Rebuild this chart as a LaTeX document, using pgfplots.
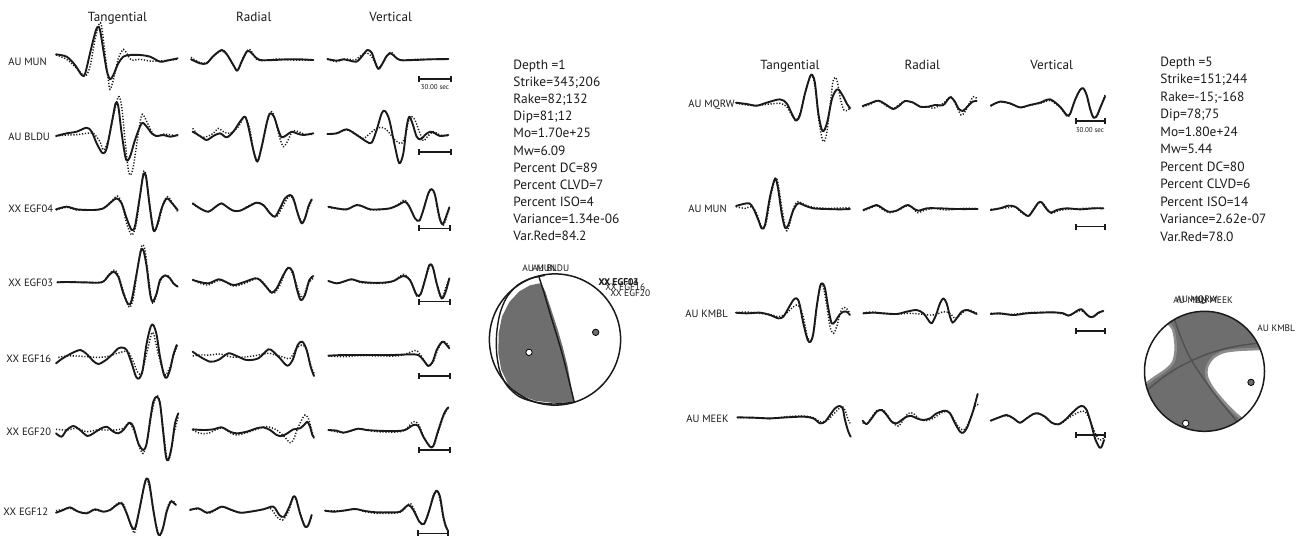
\documentclass[border=0pt]{standalone}
\usepackage{fontspec}
\setmainfont{PT Sans}
\usepackage{pgfplots}
\pgfplotsset{compat=1.18}

\definecolor{ink}{HTML}{1A1A1A}
\definecolor{ballgray}{HTML}{6E6E6E}
\definecolor{bandgray}{HTML}{8C8C8C}
\definecolor{planegray}{HTML}{505050}

% Traces are digitised on a 3x grid; each block style moves its grid onto the page.
\pgfplotsset{
  obsline/.style={ink, line width=0.95pt, smooth, tension=0.5, line cap=round, line join=round, mark=none},
  synline/.style={ink, line width=0.72pt, dash pattern=on 0.6pt off 0.85pt, smooth, tension=0.5, mark=none},
  pA/.style={x filter/.expression={x/3},      y filter/.expression={y/3}},
  pB/.style={x filter/.expression={x/3},      y filter/.expression={y/3+170}},
  pC/.style={x filter/.expression={x/3},      y filter/.expression={y/3+350}},
  pE/.style={x filter/.expression={x/3+680},  y filter/.expression={y/3+40}},
  pF/.style={x filter/.expression={x/3+680},  y filter/.expression={y/3+250}},
  pH/.style={x filter/.expression={x/3+480},  y filter/.expression={y/3+250}},
  pI/.style={x filter/.expression={x/3+1120}, y filter/.expression={y/3+270}},
}
\newcommand{\obs}[2]{\addplot[obsline,#1] coordinates {#2};}
\newcommand{\syn}[2]{\addplot[synline,#1] coordinates {#2};}
\newcommand{\sbar}[3]{\draw[ink, line width=0.75pt] (axis cs:#1,#3) -- (axis cs:#2,#3);
  \draw[ink, line width=0.75pt] (axis cs:#1,#3-3) -- (axis cs:#1,#3+3);
  \draw[ink, line width=0.75pt] (axis cs:#2,#3-3) -- (axis cs:#2,#3+3);}

\begin{document}
\begin{tikzpicture}
\begin{axis}[
  scale only axis, width=650.5pt, height=269pt,
  xmin=0, xmax=1301, ymin=0, ymax=538, y dir=reverse,
  axis lines=none, clip=false,
]
\path (axis cs:0,0) rectangle (axis cs:1301,538);

% ---------------- component titles and station names ----------------
\begin{scope}[every node/.style={ink, font=\fontsize{6.6}{8}\selectfont, anchor=base, inner sep=0}]
\node at (axis cs:117.5,21.7) {Tangential};
\node at (axis cs:253.7,21.7) {Radial};
\node at (axis cs:390.7,21.7) {Vertical};
\node at (axis cs:790,69.3) {Tangential};
\node at (axis cs:922.3,69.3) {Radial};
\node at (axis cs:1051.7,69.3) {Vertical};
\end{scope}
\begin{scope}[every node/.style={ink, font=\fontsize{5.3}{6}\selectfont, anchor=west, inner sep=0}]
\node at (axis cs:8,62) {AU MUN};
\node at (axis cs:8,137) {AU BLDU};
\node at (axis cs:8,208.3) {XX EGF04};
\node at (axis cs:8,282.3) {XX EGF03};
\node at (axis cs:6,358.3) {XX EGF16};
\node at (axis cs:6,431.7) {XX EGF20};
\node at (axis cs:3,511.7) {XX EGF12};
\node at (axis cs:688,105) {AU MQRW};
\node at (axis cs:688,209) {AU MUN};
\node at (axis cs:685,314) {AU KMBL};
\node at (axis cs:686,419) {AU MEEK};
\end{scope}

% scale bars (30 s)
\sbar{419}{451}{79}
\sbar{419}{451}{152}
\sbar{419}{450}{228.3}
\sbar{419}{450}{301.7}
\sbar{419}{450}{376}
\sbar{419}{450}{450}
\sbar{418}{448}{533.3}
\sbar{1076}{1105}{121}
\sbar{1076}{1105}{226.7}
\sbar{1076}{1105}{331}
\sbar{1076}{1105}{435}
\node[ink, font=\fontsize{3.5}{4}\selectfont, inner sep=0] at (axis cs:435,87.5) {30.00 sec};
\node[ink, font=\fontsize{3.5}{4}\selectfont, inner sep=0] at (axis cs:1090,130) {30.00 sec};

% ---------------- event 1 : waveforms ----------------
% AU MUN
\obs{pA}{(168,163) (200,170) (225,195) (245,225) (255,222) (270,160) (285,100) (293,80) (300,90) (310,150) (320,210) (330,238) (340,225) (355,190) (370,170) (390,165) (420,165) (450,170) (480,185) (500,182) (533,175)}
\syn{pA}{(168,165) (200,178) (230,205) (255,228) (270,200) (285,120) (298,70) (305,80) (315,160) (325,240) (330,268) (340,240) (355,175) (370,148) (380,160) (395,180) (420,178) (450,183) (480,183) (533,178)}
\obs{pA}{(573,178) (600,190) (620,190) (640,168) (665,150) (680,162) (700,195) (712,212) (725,185) (740,155) (750,155) (765,170) (780,180) (820,180) (860,178) (900,178) (940,180)}
\syn{pA}{(573,172) (600,188) (620,188) (645,165) (665,153) (685,170) (705,205) (713,210) (728,175) (745,148) (755,155) (770,178) (790,182) (830,177) (870,180) (940,180)}
\obs{pA}{(982,177) (1010,182) (1030,178) (1050,182) (1070,185) (1085,170) (1102,150) (1115,158) (1125,185) (1135,207) (1145,195) (1160,168) (1172,160) (1185,170) (1200,180) (1240,180) (1290,178) (1345,177)}
\syn{pA}{(982,178) (1010,185) (1030,177) (1050,178) (1065,180) (1085,165) (1100,158) (1115,170) (1128,195) (1135,205) (1148,190) (1165,162) (1175,157) (1190,175) (1210,182) (1250,178) (1345,178)}
% AU BLDU
\obs{pA}{(168,408) (200,400) (230,395) (260,383) (275,395) (290,430) (308,460) (320,445) (335,370) (347,310) (355,320) (365,400) (378,478) (390,470) (405,420) (425,370) (440,380) (455,400) (470,408) (490,405) (510,410) (533,405)}
\syn{pA}{(168,408) (200,405) (230,404) (260,400) (280,400) (300,425) (310,450) (325,420) (340,350) (355,290) (365,320) (375,420) (385,510) (392,525) (400,500) (412,420) (425,345) (438,360) (455,395) (470,410) (490,402) (533,408)}
\obs{pA}{(578,395) (600,408) (620,420) (640,408) (660,400) (680,412) (700,395) (720,365) (735,350) (745,380) (760,450) (772,485) (785,440) (800,370) (810,340) (822,350) (835,390) (845,412) (860,405) (875,395) (890,400) (910,405) (940,400)}
\syn{pA}{(578,385) (600,410) (620,410) (640,400) (655,385) (670,395) (690,400) (715,380) (735,350) (750,390) (762,460) (775,480) (790,420) (805,350) (815,335) (825,355) (838,410) (850,440) (862,425) (878,393) (895,395) (915,403) (940,403)}
\obs{pA}{(982,402) (1010,400) (1040,388) (1070,405) (1100,425) (1115,428) (1130,390) (1145,340) (1155,333) (1168,360) (1185,440) (1198,490) (1210,460) (1220,380) (1228,350) (1238,372) (1250,410) (1262,418) (1275,405) (1290,395) (1305,400) (1320,408) (1345,405)}
\syn{pA}{(982,402) (1010,400) (1040,390) (1065,400) (1090,415) (1110,400) (1130,385) (1150,383) (1165,395) (1185,420) (1205,430) (1218,400) (1225,365) (1235,350) (1245,360) (1260,400) (1270,422) (1282,410) (1300,395) (1320,405) (1345,407)}
% XX EGF04
\obs{pB}{(168,118) (200,110) (230,118) (280,120) (310,115) (335,95) (350,85) (365,100) (380,145) (395,180) (405,168) (418,90) (430,15) (438,20) (448,100) (460,180) (470,170) (485,115) (500,85) (512,95) (525,110) (533,120)}
\syn{pB}{(168,120) (200,112) (230,120) (280,120) (310,115) (330,98) (352,78) (365,100) (380,160) (395,195) (408,165) (420,80) (430,8) (438,15) (450,110) (462,180) (475,160) (490,100) (503,80) (515,95) (533,125)}
\obs{pB}{(578,100) (600,115) (625,125) (650,108) (665,100) (680,110) (700,122) (720,122) (745,110) (770,98) (790,105) (810,130) (825,140) (840,115) (855,85) (870,75) (880,85) (893,130) (905,160) (915,145) (925,110) (935,88)}
\syn{pB}{(578,102) (600,115) (625,125) (650,108) (665,100) (680,110) (700,122) (720,122) (745,108) (770,98) (795,110) (815,135) (830,140) (845,115) (862,85) (872,78) (885,100) (897,140) (908,158) (920,130) (935,90)}
\obs{pB}{(985,110) (1010,115) (1040,118) (1070,105) (1090,110) (1110,118) (1140,118) (1170,115) (1195,105) (1215,95) (1228,110) (1245,145) (1258,152) (1270,120) (1285,70) (1295,57) (1305,75) (1318,140) (1328,163) (1340,135) (1348,112)}
\syn{pB}{(985,112) (1010,116) (1040,118) (1070,106) (1090,110) (1110,119) (1140,119) (1170,114) (1195,103) (1213,90) (1228,108) (1245,145) (1258,152) (1270,120) (1285,70) (1295,57) (1305,78) (1318,145) (1330,165) (1340,140) (1348,115)}
% XX EGF03
\obs{pB}{(172,337) (200,336) (250,337) (305,337) (325,318) (340,305) (355,320) (370,370) (385,403) (395,390) (410,310) (422,245) (430,240) (440,290) (450,370) (458,395) (470,370) (480,330) (495,316) (510,325) (520,340) (533,350)}
\syn{pB}{(172,336) (250,337) (305,336) (325,315) (345,300) (360,330) (375,380) (388,412) (400,385) (412,300) (425,228) (435,240) (445,320) (456,395) (465,390) (478,340) (492,318) (505,318) (520,340) (533,348)}
\obs{pB}{(578,330) (600,336) (625,340) (655,328) (670,332) (700,345) (730,337) (765,325) (780,330) (800,352) (815,368) (830,355) (850,315) (865,293) (878,305) (890,355) (902,390) (915,375) (928,330) (940,318)}
\syn{pB}{(578,328) (600,340) (625,345) (650,333) (670,333) (700,348) (735,340) (770,325) (790,338) (808,360) (822,370) (840,345) (858,300) (870,295) (885,330) (900,375) (910,380) (925,340) (940,325)}
\obs{pB}{(985,333) (1010,340) (1030,335) (1055,328) (1080,335) (1110,338) (1150,338) (1180,333) (1210,318) (1230,330) (1250,375) (1262,372) (1275,330) (1288,285) (1298,290) (1310,340) (1325,385) (1337,365) (1348,325)}
\syn{pB}{(985,333) (1010,340) (1030,335) (1055,328) (1080,337) (1110,340) (1150,340) (1180,333) (1212,313) (1235,340) (1250,378) (1262,372) (1275,330) (1290,285) (1300,295) (1312,350) (1325,385) (1340,345) (1348,325)}
% XX EGF16
\obs{pC}{(168,40) (185,27) (205,15) (225,5) (242,0) (260,12) (280,33) (295,42) (315,32) (335,15) (355,-5) (368,-7) (380,0) (395,40) (408,80) (418,85) (428,60) (440,-20) (452,-70) (460,-75) (470,-45) (480,20) (492,75) (500,83) (510,60) (520,15) (530,-15)}
\syn{pC}{(175,22) (200,18) (230,18) (260,20) (290,22) (320,20) (345,12) (370,5) (385,5) (400,35) (412,65) (425,70) (440,10) (455,-50) (462,-45) (472,0) (488,60) (497,75) (510,50) (525,5) (533,-15)}
\obs{pC}{(578,5) (600,20) (630,35) (655,30) (685,10) (710,18) (740,30) (775,25) (805,-2) (820,5) (840,25) (862,47) (878,30) (893,-15) (907,-25) (920,0) (932,50) (942,78)}
\syn{pC}{(578,18) (600,15) (630,15) (660,12) (690,20) (720,22) (760,18) (790,12) (810,10) (825,15) (845,20) (870,25) (890,-5) (905,-15) (918,-5) (932,45) (942,70)}
\obs{pC}{(985,17) (1030,15) (1080,15) (1130,15) (1180,15) (1230,13) (1255,15) (1270,30) (1285,48) (1298,35) (1310,0) (1322,-20) (1330,-25) (1340,-15) (1348,-5)}
\syn{pC}{(985,18) (1030,20) (1080,17) (1150,18) (1200,17) (1235,5) (1250,2) (1265,20) (1285,48) (1300,35) (1313,0) (1328,-25) (1340,-20) (1348,-10)}
% XX EGF20
\obs{pC}{(168,250) (185,260) (200,240) (220,228) (240,240) (262,258) (280,250) (300,237) (320,230) (340,245) (355,250) (370,240) (388,218) (400,230) (415,280) (430,300) (440,280) (452,200) (460,155) (470,140) (480,160) (490,250) (498,320) (505,330) (515,290) (525,220) (535,190)}
\syn{pC}{(168,238) (200,240) (230,235) (260,245) (290,240) (320,240) (345,240) (370,235) (388,218) (405,250) (420,295) (430,310) (442,270) (455,190) (468,140) (478,150) (490,240) (500,320) (510,320) (522,250) (535,200)}
\obs{pC}{(578,238) (610,240) (640,238) (665,232) (690,245) (710,250) (740,245) (770,235) (790,232) (810,240) (830,255) (845,258) (862,250) (880,238) (900,235) (915,222) (922,215) (930,230) (937,255) (942,262)}
\syn{pC}{(578,240) (600,250) (625,250) (650,238) (670,235) (690,248) (710,255) (740,248) (770,238) (800,230) (830,240) (855,262) (870,278) (880,270) (893,235) (905,210) (915,195) (925,205) (935,240) (942,265)}
\obs{pC}{(985,240) (1010,242) (1030,248) (1050,243) (1075,236) (1100,240) (1130,242) (1160,243) (1190,243) (1215,240) (1240,225) (1255,228) (1270,260) (1290,290) (1300,288) (1312,250) (1325,210) (1335,185) (1345,172)}
\syn{pC}{(985,240) (1030,248) (1075,237) (1130,245) (1190,246) (1215,240) (1240,215) (1255,222) (1270,258) (1290,290) (1302,287) (1315,245) (1328,205) (1340,180) (1345,175)}
% XX EGF12
\obs{pC}{(168,488) (190,480) (210,472) (235,485) (260,490) (285,478) (310,485) (330,480) (350,465) (365,460) (380,490) (395,530) (405,535) (418,480) (432,410) (440,385) (448,400) (460,480) (472,545) (480,555) (490,530) (500,485) (512,455) (520,458) (528,465)}
\syn{pC}{(168,482) (190,478) (210,475) (235,485) (260,488) (285,480) (310,485) (330,480) (350,462) (368,458) (382,495) (398,540) (405,545) (420,470) (435,395) (442,390) (450,420) (465,510) (478,555) (488,540) (500,480) (512,452) (522,455) (528,468)}
\obs{pC}{(570,480) (595,475) (620,488) (640,482) (665,470) (690,478) (720,488) (750,485) (790,478) (820,470) (838,495) (852,500) (868,470) (880,440) (888,445) (900,490) (915,530) (925,525) (935,495)}
\syn{pC}{(570,478) (600,478) (625,490) (650,478) (670,470) (700,483) (730,488) (770,482) (810,475) (830,500) (848,510) (865,485) (882,440) (895,470) (910,520) (922,530) (935,500)}
\obs{pC}{(975,482) (1000,485) (1030,482) (1065,477) (1095,483) (1130,487) (1170,487) (1200,485) (1225,465) (1240,480) (1258,515) (1272,522) (1285,490) (1300,440) (1310,422) (1320,440) (1330,500) (1338,530) (1343,540)}
\syn{pC}{(975,482) (1030,482) (1065,477) (1095,485) (1130,490) (1170,490) (1205,485) (1230,460) (1245,485) (1260,520) (1272,520) (1288,480) (1300,435) (1312,422) (1322,460) (1332,515) (1340,535)}

% ---------------- event 2 : waveforms ----------------
% AU MQRW
\obs{pE}{(168,188) (200,192) (230,197) (260,188) (300,178) (320,190) (335,220) (348,242) (360,225) (375,160) (390,110) (397,105) (405,130) (415,220) (425,268) (432,272) (442,245) (455,180) (465,155) (475,148) (490,170) (500,190) (510,205)}
\syn{pE}{(168,190) (200,195) (230,197) (260,193) (300,190) (320,200) (335,225) (348,240) (360,220) (375,160) (390,110) (397,108) (405,140) (415,230) (425,290) (432,305) (440,280) (450,200) (458,130) (465,112) (472,125) (482,180) (492,210) (505,210) (510,200)}
\obs{pE}{(548,198) (570,190) (595,182) (620,195) (640,207) (660,195) (675,183) (700,188) (720,200) (745,200) (765,195) (790,195) (810,172) (825,185) (835,205) (848,213) (862,200) (878,185) (890,183)}
\syn{pE}{(548,200) (570,193) (595,183) (620,198) (640,205) (660,192) (675,183) (700,188) (720,200) (745,200) (760,205) (790,190) (812,170) (828,195) (843,225) (855,215) (868,190) (880,170) (890,175)}
\obs{pE}{(932,197) (960,185) (990,190) (1020,202) (1050,195) (1080,188) (1110,178) (1140,200) (1160,225) (1170,222) (1185,180) (1200,150) (1210,145) (1220,165) (1230,205) (1240,232) (1250,228) (1262,200) (1275,170)}
\syn{pE}{(932,198) (960,186) (990,191) (1020,203) (1050,196) (1080,190) (1110,182) (1140,202) (1160,228) (1170,224) (1185,182) (1200,150) (1210,146) (1220,166) (1230,205) (1240,233) (1250,230) (1262,200) (1275,165)}
% AU MUN
\obs{pE}{(168,498) (190,492) (208,490) (220,505) (235,540) (245,565) (255,555) (270,470) (283,420) (288,418) (295,450) (305,520) (315,563) (325,555) (340,510) (355,490) (375,497) (400,505) (440,507) (480,508) (510,507)}
\syn{pE}{(168,500) (195,505) (215,500) (230,520) (245,560) (258,550) (272,470) (285,418) (293,425) (305,500) (318,570) (328,555) (342,500) (355,485) (375,495) (400,502) (440,505) (480,504) (510,503)}
\obs{pE}{(550,510) (570,502) (590,495) (605,503) (625,515) (650,512) (670,500) (685,495) (700,505) (715,512) (740,505) (780,505) (830,507) (893,507)}
\syn{pE}{(550,512) (570,505) (590,497) (610,510) (630,518) (655,510) (680,498) (695,500) (712,518) (730,512) (760,505) (800,510) (850,505) (893,505)}
\obs{pE}{(932,510) (960,505) (985,497) (1005,500) (1025,515) (1045,528) (1060,510) (1075,488) (1085,487) (1098,505) (1112,518) (1130,510) (1160,505) (1200,508) (1240,505) (1270,505)}
\syn{pE}{(932,508) (960,505) (985,503) (1005,500) (1025,518) (1045,528) (1062,505) (1078,488) (1090,490) (1100,505) (1115,520) (1135,512) (1170,507) (1220,505) (1270,504)}
% AU KMBL
\obs{pF}{(168,188) (200,190) (240,188) (270,195) (295,205) (310,200) (325,175) (340,150) (350,145) (358,160) (370,220) (383,270) (392,275) (400,250) (410,170) (420,110) (427,100) (435,115) (445,175) (455,220) (465,215) (478,195) (490,185) (500,185) (510,195)}
\syn{pF}{(168,188) (200,186) (240,190) (270,193) (295,200) (315,193) (335,175) (350,165) (362,175) (372,210) (382,260) (392,272) (402,240) (412,160) (422,105) (430,110) (440,165) (450,230) (460,250) (470,230) (482,185) (492,172) (502,178) (510,190)}
\obs{pF}{(550,190) (580,188) (610,190) (650,192) (680,185) (710,180) (730,190) (745,210) (755,220) (768,195) (780,160) (790,145) (800,160) (810,200) (818,218) (830,205) (845,185) (860,180) (875,185) (890,192)}
\syn{pF}{(550,188) (580,186) (610,190) (650,192) (690,190) (720,192) (750,195) (770,193) (790,185) (810,190) (825,205) (840,195) (855,182) (870,180) (890,190)}
\obs{pF}{(932,192) (960,190) (1000,195) (1040,190) (1080,188) (1120,187) (1150,190) (1165,197) (1180,190) (1195,180) (1205,178) (1215,188) (1228,200) (1240,200) (1255,188) (1270,183)}
\syn{pF}{(932,190) (960,192) (1000,193) (1040,188) (1080,187) (1120,187) (1150,192) (1165,197) (1180,190) (1200,182) (1212,185) (1225,198) (1240,202) (1255,190) (1270,182)}
% AU MEEK
\obs{pF}{(172,502) (220,503) (270,505) (320,502) (370,500) (400,505) (420,520) (435,515) (450,495) (465,475) (478,468) (488,475) (495,510) (505,545) (512,560)}
\syn{pF}{(172,503) (220,503) (270,506) (320,500) (370,498) (400,503) (420,515) (440,512) (458,495) (475,478) (485,468) (495,480) (503,505) (510,520)}
\obs{pF}{(548,512) (560,522) (575,505) (590,485) (605,480) (620,495) (635,515) (650,520) (665,510) (680,500) (695,498) (710,505) (730,510) (750,505) (770,490) (795,482) (810,490) (825,520) (840,545) (850,548) (860,535) (870,510) (880,480) (893,432)}
\syn{pF}{(548,518) (560,522) (575,502) (590,482) (610,480) (625,500) (640,520) (655,528) (670,510) (685,490) (700,490) (715,505) (735,512) (760,505) (785,488) (805,485) (820,505) (835,530) (848,540) (860,530) (875,495) (888,465) (895,465)}
\obs{pF}{(932,512) (955,503) (980,495) (1000,505) (1020,518) (1040,505) (1060,492) (1075,490) (1095,500) (1115,518) (1135,523) (1155,510) (1175,490) (1195,472) (1208,468) (1220,480) (1233,520) (1245,565) (1258,592) (1265,590) (1272,570)}
\syn{pF}{(932,512) (955,503) (980,497) (1000,505) (1020,518) (1040,505) (1060,492) (1080,492) (1100,505) (1120,520) (1140,522) (1160,508) (1180,495) (1200,485) (1215,485) (1230,510) (1245,548) (1258,570) (1270,565) (1275,550)}

% ---------------- solution summaries ----------------
\begin{scope}[every node/.style={ink, font=\fontsize{6.7}{8}\selectfont, anchor=base west, inner sep=0}]
\node at (axis cs:513,69.5)  {Depth =1};
\node at (axis cs:513,86.6)  {Strike=343;206};
\node at (axis cs:513,103.7) {Rake=82;132};
\node at (axis cs:513,120.8) {Dip=81;12};
\node at (axis cs:513,137.9) {Mo=1.70e+25};
\node at (axis cs:513,155.0) {Mw=6.09};
\node at (axis cs:513,172.1) {Percent DC=89};
\node at (axis cs:513,189.2) {Percent CLVD=7};
\node at (axis cs:513,206.3) {Percent ISO=4};
\node at (axis cs:513,223.4) {Variance=1.34e-06};
\node at (axis cs:513,240.5) {Var.Red=84.2};
\node at (axis cs:1160,66.2)  {Depth =5};
\node at (axis cs:1160,83.7)  {Strike=151;244};
\node at (axis cs:1160,101.2) {Rake=-15;-168};
\node at (axis cs:1160,118.7) {Dip=78;75};
\node at (axis cs:1160,136.2) {Mo=1.80e+24};
\node at (axis cs:1160,153.7) {Mw=5.44};
\node at (axis cs:1160,171.2) {Percent DC=80};
\node at (axis cs:1160,188.7) {Percent CLVD=6};
\node at (axis cs:1160,206.2) {Percent ISO=14};
\node at (axis cs:1160,223.7) {Variance=2.62e-07};
\node at (axis cs:1160,241.2) {Var.Red=78.0};
\end{scope}

% ---------------- focal mechanism, event 1 ----------------
\fill[white] (axis cs:555,339.5) circle[radius=32.8pt];
\addplot[pH, fill=ballgray, draw=none] coordinates {(178,100) (150,106) (118,124) (88,156) (66,200) (56,250) (55,310) (64,360) (84,402) (118,434) (165,452) (220,459) (282,457) (272,400) (262,345) (248,290) (232,235) (214,180) (196,125) (186,104)};
\addplot[pH, ink, line width=0.7pt, smooth, tension=0.5] coordinates {(195,76) (150,86) (112,106) (80,142) (60,190) (50,250) (50,310) (60,365) (82,408) (118,440) (165,456) (220,462) (282,457)};
\addplot[pH, ink, line width=0.7pt, smooth, tension=0.5] coordinates {(176,78) (192,128) (210,190) (230,255) (249,320) (266,388) (283,457)};
\draw[ink, line width=0.75pt] (axis cs:555,339.5) circle[radius=32.8pt];
\addplot[pH, only marks, mark=*, mark size=1.6pt, mark options={fill=white, draw=none}] coordinates {(147,307)};
\addplot[pH, only marks, mark=*, mark size=1.6pt, mark options={fill=ballgray, draw=none}] coordinates {(347,247)};
\begin{scope}[every node/.style={ink, font=\fontsize{4.7}{6}\selectfont, anchor=west, inner sep=0}]
\node at (axis cs:522,268.3) {AU MUN};
\node at (axis cs:532,268.3) {AU BLDU};
\node at (axis cs:598.3,282.3) {XX EGF04};
\node at (axis cs:598.6,282.3) {XX EGF03};
\node at (axis cs:598,282.6) {XX EGF12};
\node at (axis cs:605,287.3) {XX EGF16};
\node at (axis cs:610,292.7) {XX EGF20};
\end{scope}

% ---------------- focal mechanism, event 2 ----------------
\fill[ballgray] (axis cs:1204.5,371.3) circle[radius=30pt];
\addplot[pI, fill=white, draw=none] coordinates {(145.2,160.2) (115.6,188.3) (90.4,227.9) (76.2,272.7) (73.6,310.3) (77.4,341.4) (105,322) (140,298) (160,275) (167,240) (165,205) (158,175)};
\addplot[pI, bandgray, line width=1.3pt, smooth] coordinates {(77.4,341.4) (105,322) (140,298) (160,275) (167,240) (165,205) (158,175) (145.2,160.2)};
\addplot[pI, fill=white, draw=none] coordinates {(420.4,236.6) (430.8,272.7) (433.5,304) (427.4,350.6) (409.4,394) (380.8,431.3) (364.3,445.8) (340,425) (305,388) (275,350) (260,318) (262,288) (280,262) (310,246) (350,240) (390,238)};
\addplot[pI, bandgray, line width=1.3pt, smooth] coordinates {(364.3,445.8) (340,425) (305,388) (275,350) (260,318) (262,288) (280,262) (310,246) (350,240) (390,238) (420.4,236.6)};
\addplot[pI, planegray, line width=0.7pt, smooth] coordinates {(163.5,148) (178,190) (195,232) (215,272) (243,315) (275,360) (310,405) (351.5,455)};
\addplot[pI, planegray, line width=0.7pt, smooth] coordinates {(82.3,359.6) (125,325) (170,295) (215,272) (262,252) (315,236) (365,226) (412.4,219.5)};
\addplot[pI, only marks, mark=*, mark size=1.6pt, mark options={fill=white, draw=none}] coordinates {(197,460)};
\addplot[pI, only marks, mark=*, mark size=1.6pt, mark options={fill=ballgray, draw=none}] coordinates {(393,337)};
\draw[ink, line width=0.75pt] (axis cs:1204.5,371.3) circle[radius=30pt];
\begin{scope}[every node/.style={ink, font=\fontsize{4.7}{6}\selectfont, anchor=west, inner sep=0}]
\node at (axis cs:1173,300) {AU MUN};
\node at (axis cs:1176,300) {AU MQRW};
\node at (axis cs:1195,300) {AU MEEK};
\node at (axis cs:1257,328) {AU KMBL};
\end{scope}
\end{axis}
\end{tikzpicture}
\end{document}
